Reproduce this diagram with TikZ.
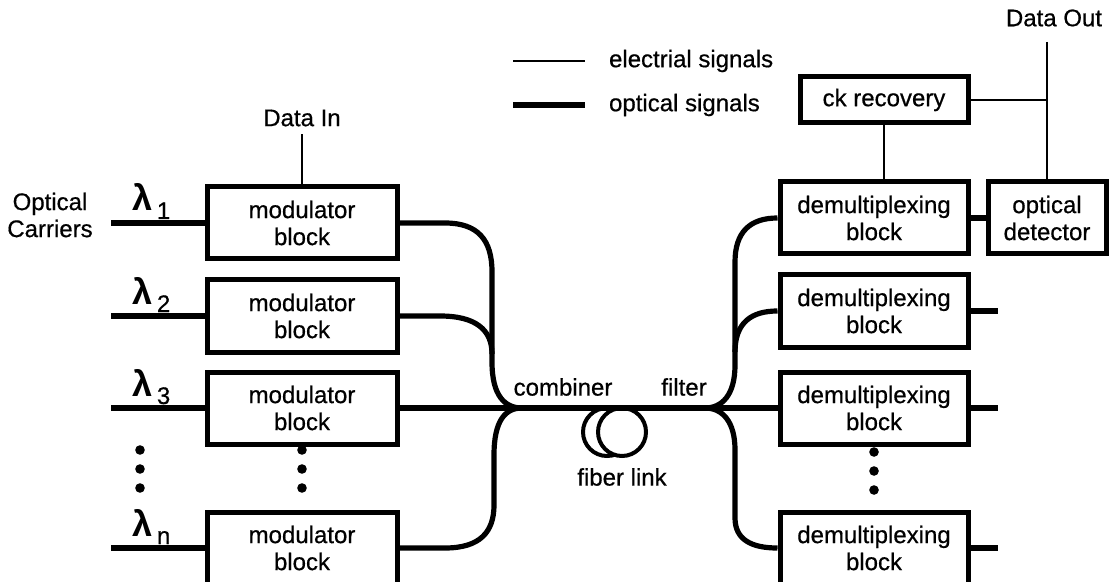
\documentclass[tikz,border=0pt]{standalone}
\usepackage{fontspec}
\setmainfont{Liberation Sans}[UprightFeatures={FakeBold=0.6}]
\usetikzlibrary{calc}

\newcommand{\lamsym}[1]{{\fontsize{18}{18}\selectfont\bfseries λ}\,\raisebox{-4pt}{#1}}

\begin{document}
\begin{tikzpicture}[x=0.5pt, y=-0.5pt, every node/.style={font=\fontsize{12}{13.5}\selectfont}]
\tikzset{
  blockbox/.style={draw, line width=2.5pt, align=center, inner sep=0pt, minimum height=36pt},
  optic/.style={line width=2.6pt},
  elec/.style={line width=1.4pt},
  lam/.style={anchor=base west, inner sep=0pt},
  dot/.style={fill=black},
}
\useasboundingbox (0,0) rectangle (1111,582);

% --- LEGEND ---
\coordinate (e0) at (513,61);
\coordinate (o0) at (513,105);
\draw[elec] (e0) -- ++(72,0);
\draw[optic] (o0) -- ++(72,0);
\node[anchor=west] (lgE) at (602,61) {electrial signals};
\node[anchor=west] (lgO) at (602,105) {optical signals};

% --- LEFT SECTION: TRANSMITTERS ---
\node[blockbox, minimum width=95pt] (mod1) at (302,223) {modulator\\block};
\node[blockbox, minimum width=95pt] (mod2) at (302,316) {modulator\\block};
\node[blockbox, minimum width=95pt] (mod3) at (302,408) {modulator\\block};
\node[blockbox, minimum width=95pt] (modn) at (302,548) {modulator\\block};

\node[align=center] (carr) at (50,215) {Optical\\Carriers};
\node (datain) at (302,118) {Data In};
\draw[elec] (mod1.north) -- ++(0,-50);

% Carriers
\foreach \m/\s in {mod1/1, mod2/2, mod3/3, modn/n}{
    \draw[optic] (\m.west) -- ++(-94,0);
    \node[lam] (lam\s) at ($(\m.west)+(-72,-12)$) {\lamsym{\s}};
}

% Dots
\foreach \yy in {450,469,488}{
    \fill[dot] (140,\yy) circle (2.4pt);
    \fill[dot] (302,\yy) circle (2.4pt);
    \fill[dot] (874,\yy+2) circle (2.4pt);
}

% --- MIDDLE: COMBINER, FIBER, FILTER ---
\coordinate (cmb) at (522,408);
\coordinate (flt) at (705,408);

\draw[optic] (mod1.east) -- (445,223) .. controls (478,223) and (492,240) .. (492,272)
    -- (492,362) .. controls (492,396) and (505,408) .. (cmb);
\draw[optic] (mod2.east) -- (440,316) .. controls (476,316) and (492,330) .. (492,354);
\draw[optic] (modn.east) -- (445,548) .. controls (480,548) and (494,532) .. (494,505)
    -- (494,455) .. controls (494,421) and (505,408) .. (cmb);

% fiber coil
\draw[line width=2pt] (607,432) circle (12pt);
\draw[line width=2pt, fill=white] (622,432) circle (12pt);

\draw[optic] (mod3.east) -- (cmb) -- (flt);

\node (cmblbl) at (563,387) {combiner};
\node (fltlbl) at (684,387) {filter};
\node (fiblbl) at (622,477) {fiber link};

% --- RIGHT SECTION: RECEIVERS ---
\node[blockbox, minimum width=94pt] (dmx1) at (874,218) {demultiplexing\\block};
\node[blockbox, minimum width=94pt] (dmx2) at (874,311) {demultiplexing\\block};
\node[blockbox, minimum width=94pt] (dmx3) at (874,408) {demultiplexing\\block};
\node[blockbox, minimum width=94pt] (dmxn) at (874,548) {demultiplexing\\block};

\node[blockbox, minimum width=59pt] (optdet) at (1047,218) {optical\\detector};
\node[blockbox, minimum width=84pt, minimum height=23pt] (ckrec) at (884,100) {ck recovery};
\node (dataout) at (1054,18) {Data Out};

\draw[optic] (flt) -- (dmx3.west);
\draw[optic] (flt) .. controls (722,408) and (735,395) .. (735,365)
    -- (735,262) .. controls (735,232) and (750,218) .. (dmx1.west);
\draw[optic] (735,352) .. controls (735,322) and (752,311) .. (dmx2.west);
\draw[optic] (flt) .. controls (722,408) and (735,421) .. (735,450)
    -- (735,518) .. controls (735,540) and (752,548) .. (dmxn.west);

% outputs
\draw[optic] (dmx1.east) -- (optdet.west);
\foreach \d in {dmx2, dmx3, dmxn}
    \draw[optic] (\d.east) -- ++(27,0);

\coordinate (dout) at (1047,42);
\draw[elec] (dout) -- (optdet.north);
\draw[elec] (ckrec.east) -- (ckrec.east -| optdet.north);
\draw[elec] (ckrec.south) -- (ckrec.south |- dmx1.north);

\end{tikzpicture}
\end{document}
